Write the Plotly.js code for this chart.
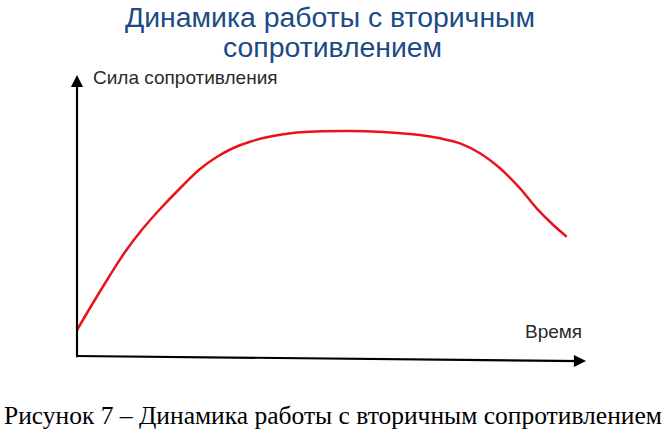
<!DOCTYPE html>
<html>
<head>
<meta charset="utf-8">
<script src="https://cdn.plot.ly/plotly-3.0.1.min.js"></script>
<style>html,body{margin:0;padding:0;background:#fff;}#chart{width:666px;height:436px;}</style>
</head>
<body>
<div id="chart"></div>
<script>
// Time (relative units) and resistance force (relative units)
const time  = [0, 2.9, 6.15, 9.43, 12.71, 15.97, 20.88, 24.17, 27.45, 30.71, 33.99, 37.27, 40.53, 43.81, 53.63, 60.12, 67.39, 71.32, 75.25, 79.17, 83.1, 87.03, 90.31, 93.58, 96.21];
const force = [9.25, 18.15, 27.76, 37.01, 44.84, 51.6, 60.85, 66.55, 70.82, 74.02, 76.26, 77.83, 78.9, 79.6, 80.07, 79.72, 78.65, 77.47, 75.69, 72.14, 66.8, 59.68, 52.56, 46.62, 42.46];

const titleLines = ["Динамика работы с вторичным", "сопротивлением"];
const yLabel = "Сила сопротивления";
const xLabel = "Время";
const caption = "Рисунок 7 – Динамика работы с вторичным сопротивлением";

const trace = {
  x: time, y: force, type: 'scatter', mode: 'lines',
  line: {color: '#e8141a', width: 2.5, shape: 'spline', smoothing: 1},
  hoverinfo: 'skip', cliponaxis: false
};

const W = 666, H = 436, L = 77, R = 80, T = 75, B = 80;
const pw = W - L - R, ph = H - T - B;
const px = v => (v - L) / pw;          // pixel x -> paper x
const py = v => (H - B - v) / ph;      // pixel y -> paper y

const sans = 'Liberation Sans, Arial, sans-serif';
const titleFont = {family: sans, size: 28.4, color: '#1c4a86'};

const layout = {
  width: W, height: H,
  margin: {l: L, r: R, t: T, b: B, pad: 0},
  paper_bgcolor: '#fff', plot_bgcolor: '#fff',
  showlegend: false,
  xaxis: {range: [0, 100], visible: false, fixedrange: true},
  yaxis: {range: [0, 100], visible: false, fixedrange: true},
  annotations: [
    // y axis with arrow
    {x: 0, y: 100, xref: 'x', yref: 'y', ax: 0, ay: -1, axref: 'x', ayref: 'y',
     showarrow: true, arrowhead: 2, arrowsize: 1.1, arrowwidth: 2.2, arrowcolor: '#000', text: ''},
    // x axis with arrow
    {x: 100, y: -1.8, xref: 'x', yref: 'y', ax: -0.4, ay: 0, axref: 'x', ayref: 'y',
     showarrow: true, arrowhead: 2, arrowsize: 1.1, arrowwidth: 2.2, arrowcolor: '#000', text: ''},
    {text: titleLines[0], xref: 'paper', yref: 'paper', x: px(330), y: py(17), xanchor: 'center', yanchor: 'middle',
     showarrow: false, font: titleFont},
    {text: titleLines[1], xref: 'paper', yref: 'paper', x: px(332), y: py(47), xanchor: 'center', yanchor: 'middle',
     showarrow: false, font: titleFont},
    {text: yLabel, xref: 'paper', yref: 'paper', x: px(91), y: py(77), xanchor: 'left', yanchor: 'middle',
     showarrow: false, font: {family: sans, size: 19, color: '#2a2a2a'}},
    {text: xLabel, xref: 'paper', yref: 'paper', x: px(584), y: py(331), xanchor: 'right', yanchor: 'middle',
     showarrow: false, font: {family: sans, size: 19, color: '#2a2a2a'}},
    {text: caption, xref: 'paper', yref: 'paper', x: px(333), y: py(415), xanchor: 'center', yanchor: 'middle',
     showarrow: false, font: {family: 'Liberation Serif, Times New Roman, serif', size: 25.5, color: '#000'}}
  ]
};

Plotly.newPlot('chart', [trace], layout, {staticPlot: true, displayModeBar: false});
</script>
</body>
</html>
